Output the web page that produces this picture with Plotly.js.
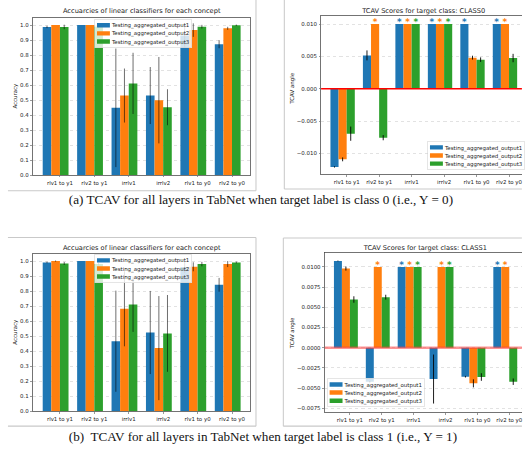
<!DOCTYPE html>
<html>
<head>
<meta charset="utf-8">
<script src="https://cdn.plot.ly/plotly-3.0.1.min.js"></script>
<style>
  html, body { margin: 0; padding: 0; overflow: hidden; background: #fff; width: 525px; height: 449px; }
  #chart { transform: scale(0.34); transform-origin: 0 0; }
</style>
</head>
<body>
<div id="chart"></div>
<script>
// ---------------- data ----------------
const categories = ['rlv1 to y1', 'rlv2 to y1', 'irrlv1', 'irrlv2', 'rlv1 to y0', 'rlv2 to y0'];
const seriesNames = ['Testing_aggregated_output1', 'Testing_aggregated_output2', 'Testing_aggregated_output3'];

// (a) accuracies, target class 0
const acc0_out1 = [0.987, 1.0, 0.448, 0.530, 0.930, 0.872];
const acc0_out1_err = [0.008, 0.0, 0.395, 0.190, 0.080, 0.027];
const acc0_out2 = [1.0, 1.0, 0.530, 0.499, 0.966, 0.978];
const acc0_out2_err = [0.0, 0.0, 0.180, 0.288, 0.045, 0.010];
const acc0_out3 = [0.987, 0.990, 0.611, 0.452, 0.989, 0.998];
const acc0_out3_err = [0.015, 0.010, 0.204, 0.120, 0.012, 0.005];

// (a) TCAV scores, CLASS0
const tcav0_out1 = [-0.0121, 0.00515, 0.010, 0.010, 0.010, 0.010];
const tcav0_out1_err = [0.0001, 0.00077, 0, 0, 0, 0];
const tcav0_out1_star = [0, 0, 1, 1, 1, 1];
const tcav0_out2 = [-0.01093, 0.010, 0.010, 0.010, 0.0048, 0.010];
const tcav0_out2_err = [0.0003, 0, 0, 0, 0.0003, 0];
const tcav0_out2_star = [0, 1, 1, 1, 0, 1];
const tcav0_out3 = [-0.00696, -0.00758, 0.010, 0.010, 0.00449, 0.00474];
const tcav0_out3_err = [0.0011, 0.0004, 0, 0, 0.00035, 0.00065];
const tcav0_out3_star = [0, 0, 1, 1, 0, 0];

// (b) accuracies, target class 1
const acc1_out1 = [0.991, 1.0, 0.466, 0.524, 0.960, 0.842];
const acc1_out1_err = [0.005, 0.0, 0.337, 0.277, 0.040, 0.046];
const acc1_out2 = [1.0, 1.0, 0.682, 0.420, 0.962, 0.980];
const acc1_out2_err = [0.004, 0.0, 0.250, 0.347, 0.030, 0.020];
const acc1_out3 = [0.984, 0.980, 0.711, 0.518, 0.980, 0.991];
const acc1_out3_err = [0.010, 0.010, 0.183, 0.256, 0.015, 0.006];

// (b) TCAV scores, CLASS1
const tcav1_out1 = [0.01074, -0.0042, 0.010, -0.00387, -0.00358, 0.010];
const tcav1_out1_err = [0.00005, 0.0001, 0, 0.00303, 0.0001, 0];
const tcav1_out1_star = [0, 0, 1, 0, 0, 1];
const tcav1_out2 = [0.0098, 0.010, 0.010, 0.010, -0.0044, 0.010];
const tcav1_out2_err = [0.00025, 0, 0, 0, 0.0005, 0];
const tcav1_out2_star = [0, 1, 1, 1, 0, 1];
const tcav1_out3 = [0.00597, 0.00626, 0.010, 0.010, -0.00362, -0.0042];
const tcav1_out3_err = [0.0004, 0.0003, 0, 0, 0.00047, 0.0004];
const tcav1_out3_star = [0, 0, 1, 1, 0, 0];

const STAR_LEVEL = 0.01;

const panelTitles = [
  'Accuarcies of linear classifiers for each concept',
  'TCAV Scores for target class: CLASS0',
  'Accuarcies of linear classifiers for each concept',
  'TCAV Scores for target class: CLASS1'
];
const captions = [
  '(a) TCAV for all layers in TabNet when target label is class 0 (i.e., Y = 0)',
  '(b)\u00a0 TCAV for all layers in TabNet when target label is class 1 (i.e., Y = 1)'
];

// ---------------- styling / geometry ----------------
const COLORS = ['#1f77b4', '#ff7f0e', '#2ca02c'];
const BW = 0.35;                 // bar width (axis units)
const STEP = BW * 4;             // spacing between concept groups
const W = 525, H = 449, S = 0.34;
const BIGW = W / S, BIGH = H / S;
const FONT = 'DejaVu Sans, Verdana, sans-serif';
const TXT = '#222';
const F = 16;                    // base font (big canvas)
const FT = 19.5;                 // title font

const fx = p => p / W;
const fy = p => 1 - p / H;

const xpos = k => categories.map((_, i) => i * STEP + k * BW);
const tickvals = categories.map((_, i) => i * STEP + 3 * BW / 2);

const panels = [
  {vals: [acc0_out1, acc0_out2, acc0_out3], errs: [acc0_out1_err, acc0_out2_err, acc0_out3_err], stars: null,
   xd: [fx(33), fx(252)], yd: [fy(175), fy(17.5)], yr: [0, 1.05], xr: [-0.578, 8.278],
   dtick: 0.1, fmt: '.1f', ecol: 'rgba(0,0,0,0.65)', legend: 'legend'},
  {vals: [tcav0_out1, tcav0_out2, tcav0_out3], errs: [tcav0_out1_err, tcav0_out2_err, tcav0_out3_err],
   stars: [tcav0_out1_star, tcav0_out2_star, tcav0_out3_star],
   xd: [fx(323), 1], yd: [fy(174.3), fy(16)], yr: [-0.01325, 0.01124], xr: [-0.578, 8.08],
   dtick: 0.005, fmt: '.3f', ecol: '#000', legend: 'legend2', red: 'rgb(255,0,0)', redw: 4.5},
  {vals: [acc1_out1, acc1_out2, acc1_out3], errs: [acc1_out1_err, acc1_out2_err, acc1_out3_err], stars: null,
   xd: [fx(33), fx(252)], yd: [fy(411), fy(253.5)], yr: [0, 1.05], xr: [-0.578, 8.278],
   dtick: 0.1, fmt: '.1f', ecol: 'rgba(0,0,0,0.65)', legend: 'legend3'},
  {vals: [tcav1_out1, tcav1_out2, tcav1_out3], errs: [tcav1_out1_err, tcav1_out2_err, tcav1_out3_err],
   stars: [tcav1_out1_star, tcav1_out2_star, tcav1_out3_star],
   xd: [fx(326.7), 1], yd: [fy(412.3), fy(252.3)], yr: [-0.0080, 0.0118], xr: [-0.578, 8.08],
   dtick: 0.0025, fmt: '.4f', ecol: '#000', legend: 'legend4', red: 'rgba(255,60,60,0.55)', redw: 7}
];

const traces = [];
const layout = {
  width: BIGW, height: BIGH,
  margin: {l: 0, r: 0, t: 0, b: 0},
  paper_bgcolor: '#fff', plot_bgcolor: '#fff',
  font: {family: FONT, size: F, color: TXT},
  barmode: 'overlay',
  showlegend: true,
  annotations: [], shapes: []
};

panels.forEach((p, pi) => {
  const n = pi + 1;
  const xa = n === 1 ? 'x' : 'x' + n;
  const ya = n === 1 ? 'y' : 'y' + n;
  for (let k = 0; k < 3; k++) {
    traces.push({
      type: 'bar', x: xpos(k), y: p.vals[k], width: BW,
      name: seriesNames[k], xaxis: xa, yaxis: ya, legend: p.legend,
      marker: {color: COLORS[k], line: {width: 0}},
      error_y: {type: 'data', array: p.errs[k], color: p.ecol, thickness: 2.6, width: 0},
      hoverinfo: 'skip'
    });
  }
  if (p.stars) {
    // significance markers: bold '*' just above the 0.01 level, in the series colour
    for (let k = 0; k < 3; k++) {
      xpos(k).forEach((xv, i) => {
        if (!p.stars[k][i]) return;
        layout.annotations.push({
          xref: xa, yref: ya, x: xv, y: STAR_LEVEL, text: '*', showarrow: false,
          xanchor: 'center', yanchor: 'middle', yshift: 7,
          font: {family: FONT, size: 26, color: COLORS[k], weight: 'bold'}
        });
      });
    }
    layout.shapes.push({type: 'line', xref: xa + ' domain', yref: ya, x0: 0, x1: 1, y0: 0, y1: 0,
      line: {color: p.red, width: p.redw}});
  }
  const axBase = {
    showline: true, linecolor: '#444', linewidth: 2.2, mirror: true,
    ticks: 'outside', ticklen: 4.9, tickwidth: 1.6, tickcolor: '#444',
    tickfont: {family: FONT, size: F, color: TXT}, zeroline: false, fixedrange: true
  };
  layout['xaxis' + (n === 1 ? '' : n)] = Object.assign({}, axBase, {
    domain: p.xd, range: p.xr, anchor: ya, tickmode: 'array', tickvals: tickvals, ticktext: categories,
    showgrid: false, ticklabelstandoff: 2
  });
  layout['yaxis' + (n === 1 ? '' : n)] = Object.assign({}, axBase, {
    domain: p.yd, range: p.yr, anchor: xa, dtick: p.dtick, tick0: 0, tickformat: p.fmt,
    showgrid: true, gridcolor: 'rgba(170,170,170,0.55)', gridwidth: 1.8, griddash: 'dash',
    ticklabelstandoff: 2, mirror: p.stars ? false : true
  });
});

// legends
const legBase = {
  bgcolor: 'rgba(255,255,255,0.8)', bordercolor: '#cccccc', borderwidth: 1.5,
  font: {family: FONT, size: F, color: TXT}, tracegroupgap: 0, itemwidth: 40, orientation: 'v'
};
layout.legend = Object.assign({}, legBase, {x: fx(95), y: fy(19), xanchor: 'left', yanchor: 'top'});
layout.legend2 = Object.assign({}, legBase, {x: fx(430), y: fy(170), xanchor: 'left', yanchor: 'bottom'});
layout.legend3 = Object.assign({}, legBase, {x: fx(95), y: fy(254), xanchor: 'left', yanchor: 'top'});
layout.legend4 = Object.assign({}, legBase, {x: fx(329), y: fy(407), xanchor: 'left', yanchor: 'bottom'});

// titles
const titlePos = [[142.5, 11], [426, 11], [142.5, 247.3], [427.8, 247.5]];
titlePos.forEach((t, i) => layout.annotations.push({
  xref: 'paper', yref: 'paper', x: fx(t[0]), y: fy(t[1]), xanchor: 'center', yanchor: 'middle',
  text: panelTitles[i], showarrow: false, font: {family: FONT, size: FT, color: TXT}
}));
// y axis labels
const ylabs = [['Accuracy', 15, 96], ['TCAV angle', 294, 88.5], ['Accuracy', 15, 332], ['TCAV angle', 294, 333]];
ylabs.forEach(l => layout.annotations.push({
  xref: 'paper', yref: 'paper', x: fx(l[1]), y: fy(l[2]), xanchor: 'center', yanchor: 'middle',
  text: l[0], textangle: -90, showarrow: false, font: {family: FONT, size: F, color: TXT}
}));
// captions
[[262.5, 200], [264.5, 436.7]].forEach((c, i) => layout.annotations.push({
  xref: 'paper', yref: 'paper', x: fx(c[0]), y: fy(c[1]), xanchor: 'center', yanchor: 'middle',
  text: captions[i], showarrow: false, font: {family: 'Liberation Serif, Times New Roman, serif', size: 38.7, color: '#111'}
}));

// light frames of the original figure images
const BORDER = {color: '#c9c9c9', width: 3};
const seg = (x0, y0, x1, y1) => layout.shapes.push({type: 'line', xref: 'paper', yref: 'paper',
  x0: fx(x0), y0: fy(y0), x1: fx(x1), y1: fy(y1), line: BORDER, layer: 'below'});
seg(8, 190.7, 257.5, 190.7); seg(257.5, 0, 257.5, 190.7);
seg(286, 0, 286, 189); seg(286, 189, 525, 189);
seg(8, 237.5, 257.5, 237.5); seg(257.5, 237.5, 257.5, 426); seg(8, 426, 257.5, 426);
seg(285, 238, 525, 238); seg(285, 238, 285, 426); seg(285, 426, 525, 426);

function widenLegendHandles() {
  // matplotlib-like wide legend handles
  document.querySelectorAll('g.legendpoints path').forEach(el => {
    el.setAttribute('d', 'M19,6.5H-19V-6.5H19Z');
  });
}

Plotly.newPlot('chart', traces, layout, {staticPlot: true, displayModeBar: false}).then(() => {
  widenLegendHandles();
  setTimeout(widenLegendHandles, 50);
});
</script>
</body>
</html>
